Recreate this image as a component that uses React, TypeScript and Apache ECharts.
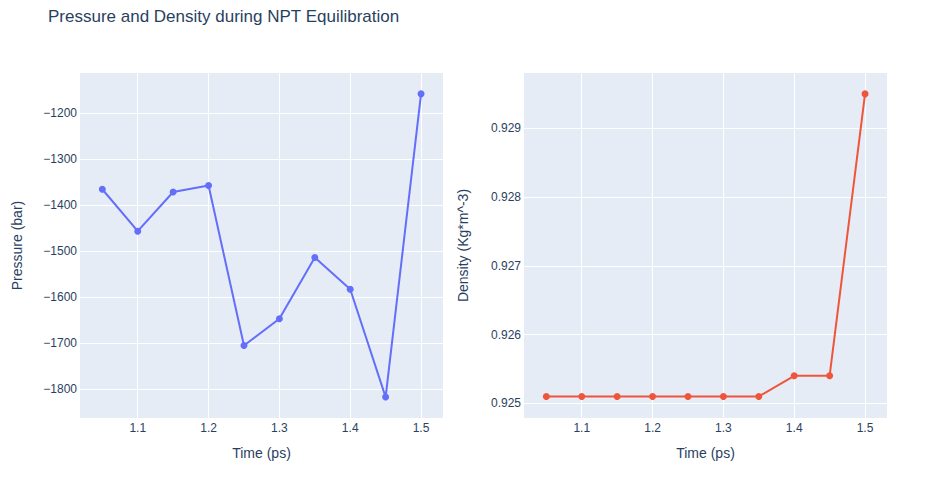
import React, { useEffect, useRef } from "react";
import * as echarts from "echarts";

const titleText = "Pressure and Density during NPT Equilibration";
const timePs = [1.05, 1.1, 1.15, 1.2, 1.25, 1.3, 1.35, 1.4, 1.45, 1.5];
const pressureBar = [-1366, -1457, -1372, -1358, -1705, -1647, -1514, -1583, -1817, -1159];
const densityVals = [0.9251, 0.9251, 0.9251, 0.9251, 0.9251, 0.9251, 0.9251, 0.9254, 0.9254, 0.9295];
const xTicks = [1.1, 1.2, 1.3, 1.4, 1.5];
const pressureTicks = [-1800, -1700, -1600, -1500, -1400, -1300, -1200];
const densityTicks = [0.925, 0.926, 0.927, 0.928, 0.929];

const FONT = '"Liberation Sans", Arial, sans-serif';
const TXT = "#2a3f5f";

function xAxisCfg(gridIndex: number) {
  return {
    type: "value",
    gridIndex,
    min: 1.0185,
    max: 1.531,
    name: "Time (ps)",
    nameLocation: "middle",
    nameGap: 28,
    nameTextStyle: { color: TXT, fontSize: 14, fontFamily: FONT },
    axisLine: { show: false },
    axisTick: { show: false, customValues: xTicks },
    axisLabel: {
      customValues: xTicks,
      color: TXT,
      fontSize: 12,
      fontFamily: FONT,
      margin: 4,
      formatter: (v: number) => v.toFixed(1),
    },
    splitLine: { show: true, lineStyle: { color: "#ffffff", width: 1 } },
  };
}

export default function App() {
  const ref = useRef<HTMLDivElement>(null);
  useEffect(() => {
    if (!ref.current) return;
    const chart = echarts.init(ref.current, undefined, { renderer: "svg" });
    chart.setOption({
      animation: false,
      backgroundColor: "#ffffff",
      title: {
        text: titleText,
        left: 48,
        top: 8,
        padding: 0,
        textStyle: { color: TXT, fontSize: 17, fontWeight: "normal", fontFamily: FONT },
      },
      grid: [
        { left: 80, top: 73, width: 363, height: 345, show: true, backgroundColor: "#E5ECF6", borderWidth: 0 },
        { left: 524, top: 73, width: 363, height: 345, show: true, backgroundColor: "#E5ECF6", borderWidth: 0 },
      ],
      xAxis: [xAxisCfg(0), xAxisCfg(1)],
      yAxis: [
        {
          type: "value",
          gridIndex: 0,
          min: -1862.4,
          max: -1113.7,
          name: "Pressure (bar)",
          nameLocation: "middle",
          nameGap: 56,
          nameTextStyle: { color: TXT, fontSize: 14, fontFamily: FONT },
          axisLine: { show: false },
          axisTick: { show: false, customValues: pressureTicks },
          axisLabel: {
            customValues: pressureTicks,
            color: TXT,
            fontSize: 12,
            fontFamily: FONT,
            margin: 3,
            formatter: (v: number) => String(Math.round(v)).replace("-", "\u2212"),
          },
          splitLine: { show: true, lineStyle: { color: "#ffffff", width: 1 } },
        },
        {
          type: "value",
          gridIndex: 1,
          min: 0.924786,
          max: 0.929804,
          name: "Density (Kg*m^-3)",
          nameLocation: "middle",
          nameGap: 54,
          nameTextStyle: { color: TXT, fontSize: 14, fontFamily: FONT },
          axisLine: { show: false },
          axisTick: { show: false, customValues: densityTicks },
          axisLabel: {
            customValues: densityTicks,
            color: TXT,
            fontSize: 12,
            fontFamily: FONT,
            margin: 3,
            formatter: (v: number) => v.toFixed(3),
          },
          splitLine: { show: true, lineStyle: { color: "#ffffff", width: 1 } },
        },
      ],
      series: [
        {
          type: "line",
          xAxisIndex: 0,
          yAxisIndex: 0,
          data: timePs.map((t, i) => [t, pressureBar[i]]),
          color: "#636efa",
          lineStyle: { width: 2 },
          symbol: "circle",
          symbolSize: 7,
          showSymbol: true,
          itemStyle: { color: "#636efa" },
        },
        {
          type: "line",
          xAxisIndex: 1,
          yAxisIndex: 1,
          data: timePs.map((t, i) => [t, densityVals[i]]),
          color: "#EF553B",
          lineStyle: { width: 2 },
          symbol: "circle",
          symbolSize: 7,
          showSymbol: true,
          itemStyle: { color: "#EF553B" },
        },
      ],
    });
    return () => chart.dispose();
  }, []);
  return (
    <div
      ref={ref}
      style={{ position: "absolute", left: 0, top: 0, width: 925, height: 484 }}
    />
  );
}
